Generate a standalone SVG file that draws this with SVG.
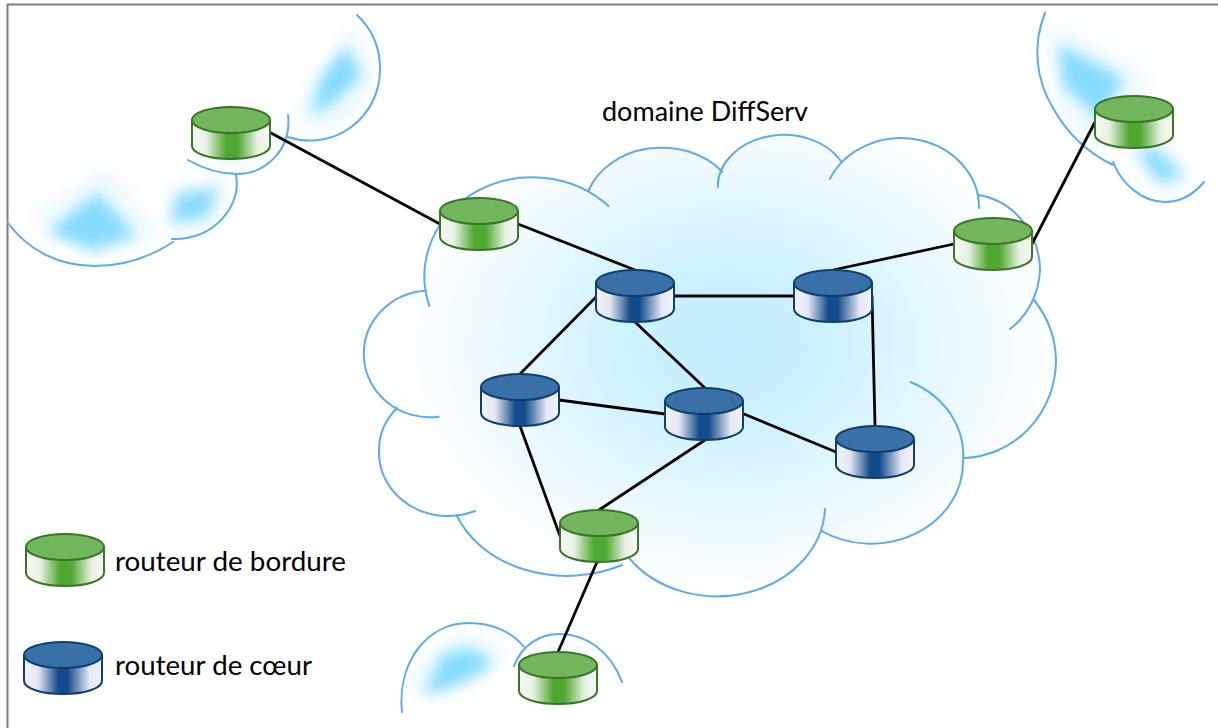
<svg xmlns="http://www.w3.org/2000/svg" xmlns:xlink="http://www.w3.org/1999/xlink" width="1218" height="728" viewBox="0 0 1218 728">
<style>
.arc{fill:none;stroke:#5caaef;stroke-width:2;stroke-linecap:round}
.blob{fill:#86dbff;filter:url(#blur)}
.pale{fill:#f0faff;filter:url(#blur2)}
.link{fill:none;stroke:#000;stroke-width:2.8;stroke-linecap:round}
.label{font-family:Lato,"Open Sans",sans-serif;font-size:26px;fill:#000}
.g-side{fill:url(#gg);stroke:#3b7528;stroke-width:2}
.g-top{fill:#72b65e;stroke:#3b7528;stroke-width:2}
.b-side{fill:url(#bg);stroke:#0d3f70;stroke-width:2}
.b-top{fill:#3a70a8;stroke:#0d3f70;stroke-width:2}
</style>
<defs>
<filter id="blur" x="-60%" y="-60%" width="220%" height="220%"><feGaussianBlur stdDeviation="7"/></filter>
<filter id="blur2" x="-40%" y="-40%" width="180%" height="180%"><feGaussianBlur stdDeviation="8"/></filter>
<linearGradient id="gg" x1="0" x2="1" y1="0" y2="0"><stop offset="0" stop-color="#f6f9f4"/><stop offset=".18" stop-color="#e8f1e3"/><stop offset=".44" stop-color="#4ea72e"/><stop offset=".58" stop-color="#4ea72e"/><stop offset=".84" stop-color="#e8f1e3"/><stop offset="1" stop-color="#f6f9f4"/></linearGradient>
<linearGradient id="bg" x1="0" x2="1" y1="0" y2="0"><stop offset="0" stop-color="#f2f3f9"/><stop offset=".18" stop-color="#e4e7f2"/><stop offset=".44" stop-color="#134b8c"/><stop offset=".56" stop-color="#134b8c"/><stop offset=".84" stop-color="#e4e7f2"/><stop offset="1" stop-color="#f2f3f9"/></linearGradient>
<radialGradient id="cloudFill" gradientUnits="userSpaceOnUse" cx="0" cy="0" r="1" gradientTransform="translate(730 345) scale(325 245)"><stop offset="0" stop-color="#c2edff"/><stop offset=".35" stop-color="#cff2ff"/><stop offset=".7" stop-color="#ebf9ff"/><stop offset="1" stop-color="#fdfeff"/></radialGradient>
<g id="edge"><path class="g-side" d="M1,13V39A39,13 0 0 0 79,39V13Z"/><ellipse class="g-top" cx="40" cy="13" rx="39" ry="13"/></g>
<g id="core"><path class="b-side" d="M1,13V39A39,13 0 0 0 79,39V13Z"/><ellipse class="b-top" cx="40" cy="13" rx="39" ry="13"/></g>
</defs>
<rect width="1218" height="728" fill="#fff"/>
<path d="M7.5,728V4.5H1218" fill="none" stroke="#7f7f7f" stroke-width="2"/>

<g id="cloud-main">
<path fill="url(#cloudFill)" d="M426,291A108,99 0 0 1 588,191A78,65 0 0 1 722.4,172A66,52 0 0 1 841,161A78,69 0 0 1 978,195A72,77 0 0 1 1034,300A95,98 0 0 1 1056,360A95,98 0 0 1 964,458A92,81 0 0 1 821.5,531A108,91 0 0 1 629,558L622,565A118,94 0 0 1 457,515L397,408A66,63 0 0 1 364,353A66,63 0 0 1 426,291Z"/>
<path fill="url(#cloudFill)" d="M457,515A69,63 0 0 1 379,452A69,63 0 0 1 397,408Z"/>
<path class="arc" d="M429.4,306A108,99 0 0 1 608.5,206"/>
<path class="arc" d="M588.3,191A78,65 0 0 1 722.4,171.7"/>
<path class="arc" d="M717.8,187A66,52 0 0 1 841,161"/>
<path class="arc" d="M829.8,179A78,69 0 0 1 979,208"/>
<path class="arc" d="M978,195A72,77 0 0 1 1040,270A72,77 0 0 1 1010,329"/>
<path class="arc" d="M1034,300A95,98 0 0 1 1056,360A95,98 0 0 1 964,458"/>
<path class="arc" d="M910.6,382A92,81 0 0 1 963,462A92,81 0 0 1 821.5,531"/>
<path class="arc" d="M825,509A108,91 0 0 1 629,558"/>
<path class="arc" d="M622,565A118,94 0 0 1 456.5,515"/>
<path class="arc" d="M475,511A69,63 0 0 1 379,452A69,63 0 0 1 397,408"/>
<path class="arc" d="M438.6,416.7A66,63 0 0 1 363.8,353A66,63 0 0 1 425.8,290.7"/>
</g>

<g id="cloud-top-left">
<path class="pale" d="M355,22L378,70L350,125L300,132L300,100Z"/>
<path class="pale" d="M200,155L270,130L285,125L270,160L230,172Z"/>
<path class="pale" d="M165,185L230,180L225,225L172,236Z"/>
<path class="pale" d="M25,215L110,165L165,235L95,260Z"/>
<path class="blob" d="M310,114L322,76L346,46L362,76L330,106Z"/>
<path class="blob" d="M170,222L178,194L218,188L206,218Z"/>
<path class="blob" d="M48,232L98,192L136,236L92,250Z"/>
<path class="arc" d="M357,15A70,71 0 0 1 380,68A70,71 0 0 1 288,137"/>
<path class="arc" d="M288,115C292,150 265,174 237,174C218,174 202,168 188,160"/>
<path class="arc" d="M236,175C242,205 215,240 172,239"/>
<path class="arc" d="M173,242C150,257 122,266 95,266C58,266 28,250 8,223"/>
</g>

<g id="cloud-top-right">
<path class="pale" d="M1048,20L1150,70L1140,110L1100,155L1060,120Z"/>
<path class="pale" d="M1125,160L1170,145L1198,180L1165,198Z"/>
<path class="blob" d="M1058,44L1124,78L1100,122L1084,104L1064,88Z"/>
<path class="blob" d="M1136,148L1158,150L1184,176L1158,182Z"/>
<path class="arc" d="M1045,13C1032,45 1036,80 1053,108C1068,135 1088,153 1113,165"/>
<path class="arc" d="M1113,162C1122,185 1143,202 1165,202C1180,202 1194,194 1204,182"/>
</g>

<g id="cloud-bottom">
<path class="pale" d="M408,700L410,665L465,630L515,650L480,680Z"/>
<path class="pale" d="M525,660L560,640L600,665L600,680Z"/>
<path class="blob" d="M424,696L442,654L472,648L494,664L460,684Z"/>
<path class="arc" d="M402,712C397,665 425,623 469,623C492,623 512,632 524,647"/>
<path class="arc" d="M514,666C522,645 540,634 559,634C585,634 610,650 622,682"/>
</g>

<g id="connectors">
<path class="link" d="M271,133L440,224"/>
<path class="link" d="M518,224L635,270"/>
<path class="link" d="M675,296H794"/>
<path class="link" d="M833,270L954,244"/>
<path class="link" d="M1032,244L1095,122"/>
<path class="link" d="M597,296L520,374"/>
<path class="link" d="M635,322L705,388"/>
<path class="link" d="M559,400L665,414"/>
<path class="link" d="M744,414L836,452"/>
<path class="link" d="M872,296L875,426"/>
<path class="link" d="M520,426L560,536"/>
<path class="link" d="M705,440L599,510"/>
<path class="link" d="M597,562L558,652"/>
</g>

<g id="edge-1"><use href="#edge" x="191" y="107"/></g>
<g id="edge-2"><use href="#edge" x="439" y="198"/></g>
<g id="edge-3"><use href="#edge" x="953" y="218"/></g>
<g id="edge-4"><use href="#edge" x="1094" y="96"/></g>
<g id="edge-5"><use href="#edge" x="559" y="510"/></g>
<g id="edge-6"><use href="#edge" x="518" y="652"/></g>
<g id="core-1"><use href="#core" x="595" y="270"/></g>
<g id="core-2"><use href="#core" x="793" y="270"/></g>
<g id="core-3"><use href="#core" x="480" y="374"/></g>
<g id="core-4"><use href="#core" x="664" y="388"/></g>
<g id="core-5"><use href="#core" x="835" y="426"/></g>

<g id="legend-edge"><use href="#edge" x="25" y="534"/><text class="label" x="115" y="571" textLength="231" lengthAdjust="spacingAndGlyphs">routeur de bordure</text></g>
<g id="legend-core"><use href="#core" x="23" y="642"/><text class="label" x="115" y="675" textLength="197" lengthAdjust="spacingAndGlyphs">routeur de cœur</text></g>
<g id="title"><text class="label" x="602" y="121" textLength="206" lengthAdjust="spacingAndGlyphs">domaine DiffServ</text></g>
</svg>
